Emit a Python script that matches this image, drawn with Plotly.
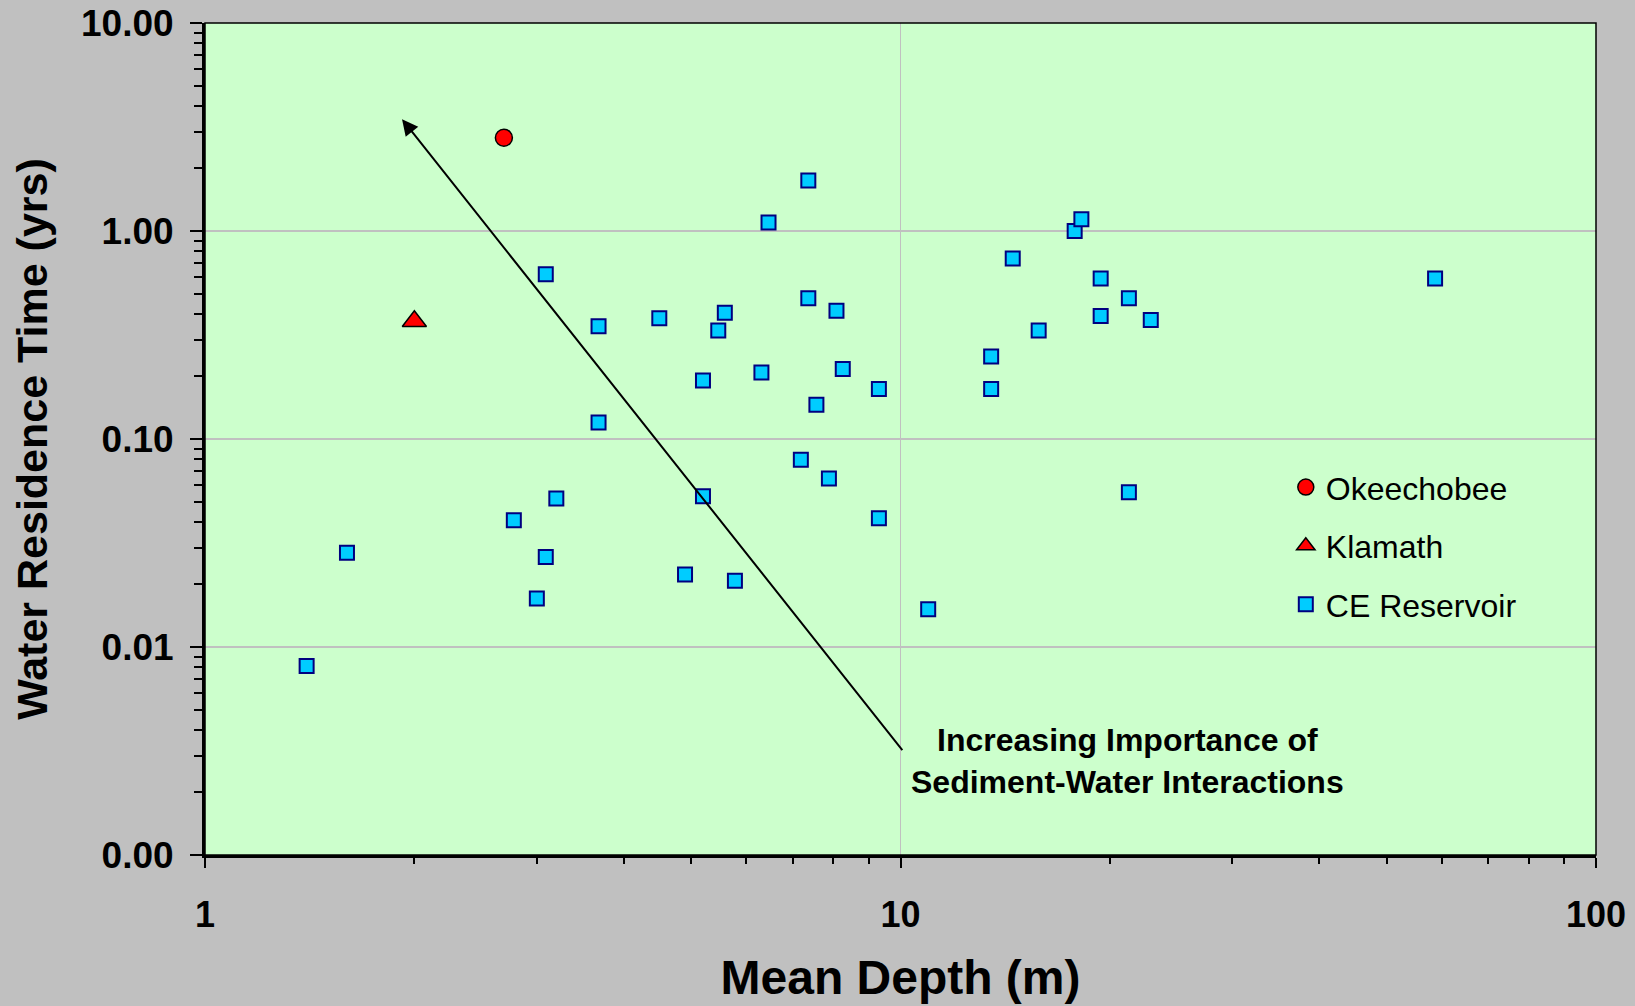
import numpy as np
import plotly.graph_objects as go

# ---- data ----
okee_depth = [2.69]
okee_time = [2.81]
klam_depth = [2.0]
klam_time = [0.368]
ce_depth = [1.40, 1.60, 2.78, 3.09, 3.09, 3.00, 3.20, 3.68, 3.68, 4.50,
            4.90, 5.20, 5.20, 5.47, 5.59, 5.78, 6.31, 6.46, 7.19, 7.37,
            7.37, 7.57, 7.89, 8.09, 8.26, 9.31, 9.31, 10.96, 13.5, 13.5,
            14.5, 15.8, 17.8, 18.2, 19.4, 19.4, 21.3, 21.3, 22.9, 58.7]
ce_time = [0.0081, 0.0284, 0.0407, 0.619, 0.0271, 0.0171, 0.0518, 0.348, 0.120, 0.381,
           0.0223, 0.191, 0.053, 0.332, 0.404, 0.0208, 0.209, 1.10, 0.0794, 1.75,
           0.475, 0.146, 0.0645, 0.414, 0.217, 0.174, 0.0416, 0.0152, 0.249, 0.174,
           0.737, 0.332, 1.00, 1.14, 0.591, 0.390, 0.475, 0.0555, 0.373, 0.591]

y_tickvals = [0.001, 0.01, 0.1, 1, 10]
y_ticktext = ["0.00", "0.01", "0.10", "1.00", "10.00"]
x_tickvals = [1, 10, 100]
x_ticktext = ["1", "10", "100"]

arrow_tail = (10.1, 0.00314)
arrow_head = (1.92, 3.45)
note_pos = (21.2, 0.00283)
note_text = "Increasing Importance of<br>Sediment-Water Interactions"

FONT = "Liberation Sans, Arial, sans-serif"

fig = go.Figure()
fig.add_trace(go.Scatter(
    x=okee_depth, y=okee_time, mode="markers", name="Okeechobee",
    legendgroup="a",
    marker=dict(symbol="circle", size=17, color="#FF0000",
                line=dict(color="black", width=1.5))))
fig.add_trace(go.Scatter(
    x=klam_depth, y=klam_time, mode="markers", name="Klamath",
    legendgroup="b",
    marker=dict(symbol="triangle-up", size=21, color="#FF0000",
                line=dict(color="black", width=1.5))))
fig.add_trace(go.Scatter(
    x=ce_depth, y=ce_time, mode="markers", name="CE Reservoir",
    legendgroup="c",
    marker=dict(symbol="square", size=14, color="#00CCFF",
                line=dict(color="#000080", width=2))))

fig.update_layout(
    width=1635, height=1006,
    margin=dict(l=205, r=39, t=23, b=151, autoexpand=False),
    paper_bgcolor="#C0C0C0",
    plot_bgcolor="#CCFFCC",
    font=dict(family=FONT, color="black"),
    showlegend=True,
    legend=dict(x=0.777, y=0.475, xanchor="left", yanchor="top",
                bgcolor="rgba(0,0,0,0)", borderwidth=0,
                font=dict(size=32, family=FONT),
                traceorder="grouped", tracegroupgap=14,
                itemsizing="trace"),
    xaxis=dict(
        type="log", range=[0, 2], automargin=False,
        tickvals=x_tickvals, ticktext=x_ticktext,
        tickfont=dict(size=36, family=FONT, weight="bold"),
        ticks="outside", ticklen=10, tickwidth=2, tickcolor="black",
        showline=True, linewidth=3, linecolor="black",
        showgrid=True, gridcolor="#C0C0C0", gridwidth=1,
        minor=dict(ticks="outside", ticklen=6, tickwidth=2, tickcolor="black",
                   dtick="D1", showgrid=False),
        zeroline=False,
        ticklabelstandoff=16,
        title=dict(text="Mean Depth (m)", font=dict(size=48, family=FONT, weight="bold"),
                   standoff=27),
    ),
    yaxis=dict(
        type="log", range=[-3, 1], automargin=False,
        tickvals=y_tickvals, ticktext=y_ticktext,
        tickfont=dict(size=37, family=FONT, weight="bold"),
        ticks="outside", ticklen=12, tickwidth=2, tickcolor="black",
        showline=True, linewidth=3, linecolor="black",
        showgrid=True, gridcolor="#C0C0C0", gridwidth=2,
        minor=dict(ticks="outside", ticklen=8, tickwidth=2, tickcolor="black",
                   dtick="D1", showgrid=False),
        zeroline=False,
        ticklabelstandoff=9,
        title=dict(text="Water Residence Time (yrs)", font=dict(size=43, family=FONT, weight="bold"),
                   standoff=20),
    ),
)

# thin border on top and right of the plot area
fig.add_shape(type="rect", xref="paper", yref="paper", x0=0, y0=0, x1=1, y1=1,
              line=dict(color="black", width=1.5), layer="above")

# arrow
fig.add_annotation(
    x=np.log10(arrow_head[0]), y=np.log10(arrow_head[1]),
    ax=np.log10(arrow_tail[0]), ay=np.log10(arrow_tail[1]),
    xref="x", yref="y", axref="x", ayref="y",
    text="", showarrow=True, arrowhead=2, arrowsize=1.6, arrowwidth=2,
    arrowcolor="black")

fig.add_annotation(
    x=np.log10(note_pos[0]), y=np.log10(note_pos[1]), xref="x", yref="y",
    text=note_text, showarrow=False, align="center",
    font=dict(size=32, family=FONT, weight="bold", color="black"))

fig.write_html("out.html")
